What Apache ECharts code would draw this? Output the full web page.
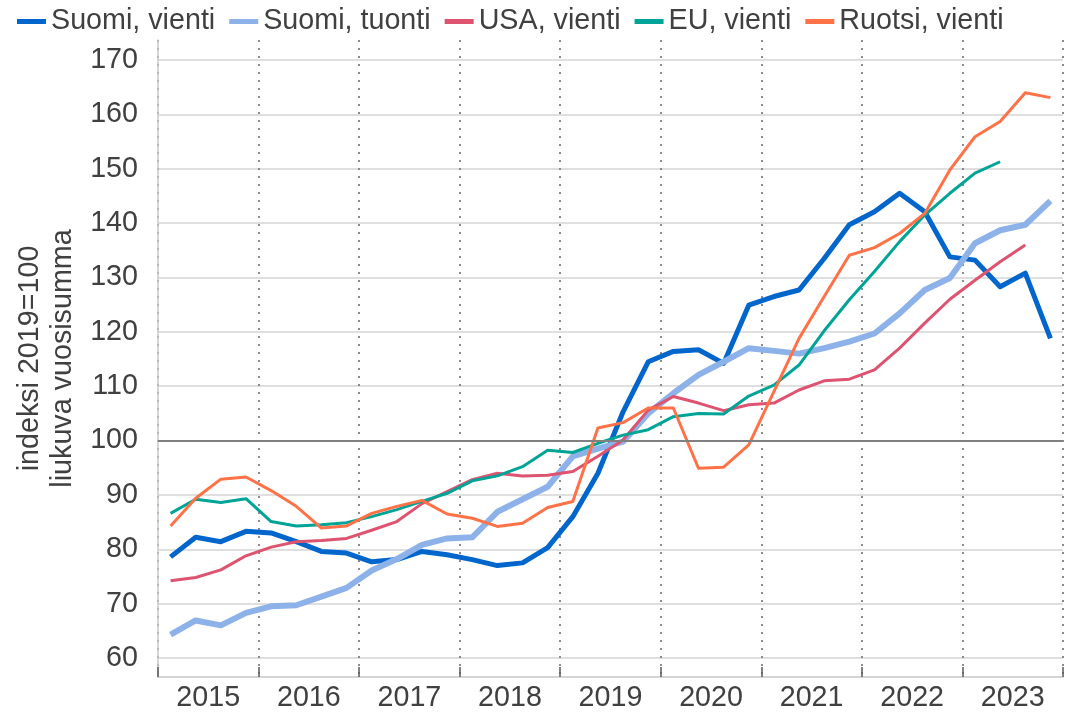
<!DOCTYPE html>
<html>
<head>
<meta charset="utf-8">
<title>Vienti ja tuonti</title>
<script src="https://cdn.jsdelivr.net/npm/echarts@6/dist/echarts.min.js"></script>
<style>
  html, body { margin: 0; padding: 0; background: #fff; }
  #chart { width: 1078px; height: 714px; }
</style>
</head>
<body>
<div id="chart"></div>
<script>
// vuosineljännekset 2015Q1 - 2023Q4
var years = ['2015', '2016', '2017', '2018', '2019', '2020', '2021', '2022', '2023'];
var quarters = [];
for (var y = 0; y < years.length; y++) {
  for (var q = 1; q <= 4; q++) {
    quarters.push(years[y] + 'Q' + q);
  }
}

var suomiVienti = [78.6, 82.2, 81.4, 83.3, 83.0, 81.4, 79.6, 79.3, 77.7, 78.1, 79.6, 79.0,
                   78.1, 77.0, 77.5, 80.3, 86.0, 94.0, 105.3, 114.5, 116.4, 116.7, 114.2, 124.9,
                   126.5, 127.7, 133.5, 139.7, 142.1, 145.5, 142.1, 133.8, 133.2, 128.3, 130.8, 118.8];
var suomiTuonti = [64.3, 66.9, 66.0, 68.3, 69.5, 69.7, 71.3, 72.9, 76.1, 78.2, 80.8, 82.0,
                   82.2, 86.9, 89.2, 91.5, 97.1, 98.5, 99.8, 105.0, 108.7, 112.1, 114.5, 117.0,
                   116.5, 116.0, 117.0, 118.2, 119.7, 123.4, 127.7, 129.9, 136.3, 138.7, 139.7, 144.1];
var usaVienti = [74.2, 74.8, 76.2, 78.8, 80.4, 81.4, 81.6, 82.0, 83.5, 85.1, 88.4, 90.6,
                 92.8, 94.0, 93.5, 93.6, 94.3, 97.1, 100.1, 105.6, 108.1, 106.9, 105.5, 106.6,
                 106.9, 109.3, 111.0, 111.3, 113.0, 117.0, 121.6, 126.0, 129.5, 132.9, 136.0, null];
var euVienti = [86.6, 89.2, 88.6, 89.3, 85.1, 84.3, 84.5, 84.9, 86.0, 87.3, 88.8, 90.3,
                92.6, 93.5, 95.2, 98.2, 97.8, 99.5, 101.0, 102.0, 104.4, 105.0, 104.9, 108.2,
                110.2, 113.9, 120.2, 125.9, 131.1, 136.6, 141.5, 145.5, 149.2, 151.3, null, null];
var ruotsiVienti = [84.3, 89.4, 92.9, 93.3, 90.8, 87.9, 83.9, 84.3, 86.6, 87.9, 89.0, 86.5,
                    85.7, 84.2, 84.8, 87.7, 88.8, 102.3, 103.3, 106.0, 106.0, 94.9, 95.1, 99.2,
                    109.0, 118.8, 126.5, 134.1, 135.5, 138.1, 141.8, 149.8, 155.9, 158.7, 164.0, 163.1];

var font = 'Liberation Sans, Arial, sans-serif';
var textColor = '#404040';
var fontSize = 28.7;

function lineSeries(name, data, color, width) {
  return {
    name: name,
    type: 'line',
    xAxisIndex: 0,
    data: data,
    symbol: 'none',
    connectNulls: false,
    lineStyle: { color: color, width: width, join: 'round' },
    itemStyle: { color: color }
  };
}

var series = [
  lineSeries('Suomi, vienti', suomiVienti, '#0066cc', 5),
  lineSeries('Suomi, tuonti', suomiTuonti, '#8db2ea', 6),
  lineSeries('USA, vienti', usaVienti, '#dd5370', 3),
  lineSeries('EU, vienti', euVienti, '#00a496', 3),
  lineSeries('Ruotsi, vienti', ruotsiVienti, '#ff7248', 3)
];
// 100-taso
series[0].markLine = {
  silent: true,
  symbol: 'none',
  label: { show: false },
  lineStyle: { color: '#808080', width: 2, type: 'solid' },
  data: [{ yAxis: 100 }]
};

var myChart = echarts.init(document.getElementById('chart'));
var option = {
  animation: false,
  textStyle: { fontFamily: font },
  legend: {
    top: 2,
    left: 12,
    icon: 'rect',
    itemWidth: 29,
    itemHeight: 5,
    itemGap: 14,
    textStyle: { fontSize: fontSize, color: textColor, fontFamily: font },
    data: ['Suomi, vienti', 'Suomi, tuonti', 'USA, vienti', 'EU, vienti', 'Ruotsi, vienti']
  },
  grid: { left: 158, right: 15, top: 40, bottom: 37, outerBoundsMode: 'none', containLabel: false },
  xAxis: [
    {
      type: 'category',
      data: quarters,
      boundaryGap: true,
      show: false
    },
    {
      type: 'category',
      data: years,
      position: 'bottom',
      boundaryGap: true,
      axisLine: { show: true, lineStyle: { color: '#c8c8c8', width: 1.5 } },
      axisTick: { show: true, inside: true, length: 10, interval: 0, lineStyle: { color: '#595959', width: 1.5 } },
      axisLabel: { fontSize: fontSize, color: textColor, margin: 7, interval: 0 },
      splitLine: { show: true, interval: 0, lineStyle: { color: '#8c8c8c', width: 2, type: [2, 6] } }
    }
  ],
  yAxis: {
    type: 'value',
    min: 56.5,
    max: 173.7,
    splitNumber: 11,
    minInterval: 10,
    maxInterval: 10,
    name: 'indeksi 2019=100\nliukuva vuosisumma',
    nameLocation: 'middle',
    nameGap: 78,
    nameRotate: 90,
    nameTextStyle: { fontSize: fontSize, color: textColor, lineHeight: 33 },
    axisLine: { show: true, lineStyle: { color: '#c8c8c8', width: 1.5 } },
    axisTick: { show: false },
    axisLabel: { fontSize: fontSize, color: textColor, margin: 20, showMinLabel: false, showMaxLabel: false },
    splitLine: { show: true, showMinLine: false, showMaxLine: false, lineStyle: { color: '#d4d4d4', width: 1.5 } }
  },
  series: series
};
myChart.setOption(option);
</script>
</body>
</html>
